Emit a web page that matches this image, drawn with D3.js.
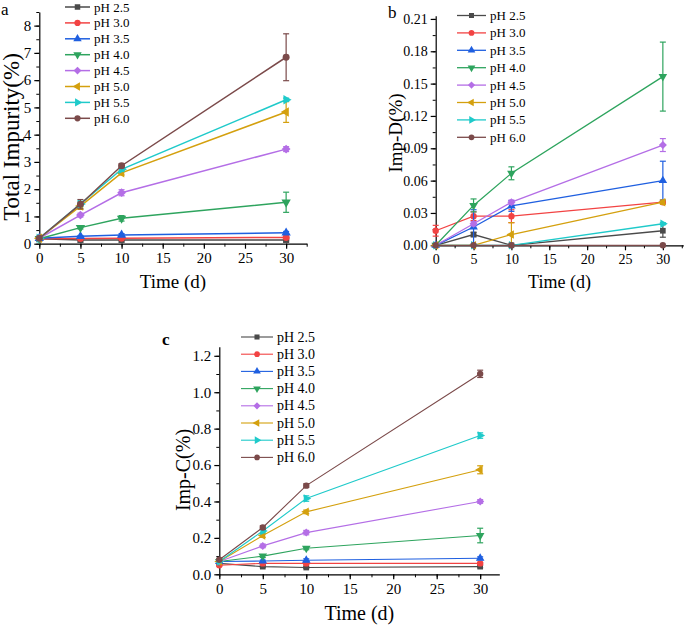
<!DOCTYPE html>
<html lang="en">
<head>
<meta charset="UTF-8">
<title>Impurity vs time at different pH</title>
<script src="https://d3js.org/d3.v7.min.js"></script>
<style>
    body { margin: 0; background: #fff; }
    svg { display: block; font-family: "Liberation Serif", "Times New Roman", serif; }
    .line { fill: none; }
</style>
</head>
<body>
<script>
// sampling days
const days = [0, 5, 10, 30];
const seriesNames = ["pH 2.5", "pH 3.0", "pH 3.5", "pH 4.0", "pH 4.5", "pH 5.0", "pH 5.5", "pH 6.0"];

// panel a: total impurity (%)
const totalMean = [
    [0.18, 0.14, 0.14, 0.14],
    [0.18, 0.19, 0.2, 0.23],
    [0.2, 0.27, 0.32, 0.4],
    [0.18, 0.59, 0.93, 1.52],
    [0.2, 1.05, 1.87, 3.47],
    [0.2, 1.38, 2.6, 4.83],
    [0.2, 1.46, 2.73, 5.28],
    [0.2, 1.45, 2.86, 6.84]
];
const totalErr = [
    [0.02, 0.02, 0.02, 0.02],
    [0.02, 0.02, 0.02, 0.03],
    [0.02, 0.03, 0.05, 0.05],
    [0.03, 0.05, 0.1, 0.37],
    [0.03, 0.07, 0.11, 0.09],
    [0.03, 0.12, 0.08, 0.38],
    [0.03, 0.1, 0.08, 0.06],
    [0.03, 0.17, 0.07, 0.86]
];

// panel b: Imp-D (%)
const impDMean = [
    [0, 0.010, 0, 0.0135],
    [0.0135, 0.027, 0.027, 0.040],
    [0, 0.017, 0.0365, 0.060],
    [0, 0.037, 0.0668, 0.1565],
    [0, 0.020, 0.040, 0.093],
    [0, 0, 0.010, 0.040],
    [0, 0, 0, 0.020],
    [0, 0, 0, 0]
];
const impDErr = [
    [0, 0.002, 0, 0.006],
    [0.005, 0.004, 0.006, 0.001],
    [0, 0.016, 0.005, 0.018],
    [0, 0.006, 0.006, 0.032],
    [0, 0.002, 0.002, 0.006],
    [0, 0, 0.011, 0.002],
    [0, 0, 0, 0.001],
    [0, 0, 0, 0]
];

// panel c: Imp-C (%)
const impCMean = [
    [0.06, 0.042, 0.037, 0.042],
    [0.05, 0.06, 0.06, 0.06],
    [0.07, 0.073, 0.077, 0.088],
    [0.07, 0.10, 0.143, 0.213],
    [0.07, 0.156, 0.229, 0.40],
    [0.07, 0.213, 0.343, 0.574],
    [0.07, 0.238, 0.416, 0.762],
    [0.08, 0.257, 0.487, 1.101]
];
const impCErr = [
    [0.005, 0.005, 0.005, 0.006],
    [0.005, 0.005, 0.005, 0.005],
    [0.005, 0.005, 0.008, 0.008],
    [0.005, 0.008, 0.008, 0.04],
    [0.005, 0.01, 0.012, 0.01],
    [0.005, 0.01, 0.01, 0.022],
    [0.005, 0.01, 0.015, 0.015],
    [0.005, 0.01, 0.01, 0.02]
];

const colors = ["#4a4a4a", "#f24343", "#1f5fe0", "#2ea45e", "#b46ee6", "#d4a00e", "#1fcaca", "#7b4a4a"];
// symbol type + rotation
const markers = [
    [d3.symbolSquare, 0], [d3.symbolCircle, 0], [d3.symbolTriangle, 0], [d3.symbolTriangle, 180],
    [d3.symbolSquare, 45], [d3.symbolTriangle, -90], [d3.symbolTriangle, 90], [d3.symbolCircle, 0]
];

const svg = d3.select("body").append("svg")
    .attr("width", 685)
    .attr("height", 627);

function drawPanel(p) {
    const x = d3.scaleLinear().domain([0, p.xMax]).range([p.left, p.right]);
    const y = d3.scaleLinear().domain([0, p.yMax]).range([p.bottom, p.top]);
    const g = svg.append("g");

    // minor ticks
    g.append("g")
        .attr("transform", `translate(0,${p.bottom})`)
        .call(d3.axisBottom(x).tickValues(d3.range(0, p.xMax + 0.01, 2.5)).tickSize(3).tickFormat(""))
        .call(a => a.select(".domain").remove());
    g.append("g")
        .attr("transform", `translate(${p.left},0)`)
        .call(d3.axisLeft(y).tickValues(d3.range(0, p.yMax + 1e-9, p.yMinor)).tickSize(3).tickFormat(""))
        .call(a => a.select(".domain").remove());

    // major axes
    const xAxis = g.append("g")
        .attr("transform", `translate(0,${p.bottom})`)
        .call(d3.axisBottom(x).tickValues(d3.range(0, 31, 5)).tickSize(5).tickSizeOuter(0).tickPadding(4));
    const yAxis = g.append("g")
        .attr("transform", `translate(${p.left},0)`)
        .call(d3.axisLeft(y).tickValues(p.yTicks).tickFormat(d3.format(p.yFmt)).tickSize(5).tickSizeOuter(0).tickPadding(3));
    [xAxis, yAxis].forEach(a => {
        a.selectAll("path, line").attr("stroke", "#000").attr("stroke-width", 1.2);
        a.selectAll("text").attr("font-family", "Liberation Serif").attr("font-size", p.tickFont).attr("fill", "#000");
    });
    g.selectAll("line").attr("stroke", "#000");

    // titles
    g.append("text")
        .attr("x", (p.left + p.right) / 2).attr("y", p.xTitleY)
        .attr("text-anchor", "middle").attr("font-size", p.xTitleFont)
        .text("Time (d)");
    g.append("text")
        .attr("transform", `translate(${p.yTitleX},${p.yTitleY}) rotate(-90)`)
        .attr("text-anchor", "middle").attr("font-size", p.yTitleFont)
        .text(p.yTitle);
    g.append("text")
        .attr("x", p.letterX).attr("y", p.letterY)
        .attr("font-size", 17).attr("font-weight", p.letterBold ? "bold" : "normal")
        .text(p.letter);

    const line = d3.line().x((d, i) => x(days[i])).y(d => y(d));

    p.mean.forEach((vals, s) => {
        const c = colors[s];
        const err = p.err[s];
        // error bars
        vals.forEach((v, i) => {
            if (err[i] <= 0) return;
            const cx = x(days[i]);
            const y1 = y(v + err[i]), y0 = y(Math.max(0, v - err[i]));
            g.append("line").attr("x1", cx).attr("x2", cx).attr("y1", y1).attr("y2", y0)
                .attr("stroke", c).attr("stroke-width", 1.2);
            [y1, y(v - err[i])].forEach(yy => {
                if (v - err[i] < 0 && yy === y(v - err[i])) return;
                g.append("line").attr("x1", cx - 3).attr("x2", cx + 3).attr("y1", yy).attr("y2", yy)
                    .attr("stroke", c).attr("stroke-width", 1.2);
            });
        });
        g.append("path")
            .datum(vals)
            .attr("class", "line")
            .attr("d", line)
            .attr("stroke", c)
            .attr("stroke-width", p.lineWidth);
        g.selectAll(null)
            .data(vals)
            .enter()
            .append("path")
            .attr("d", d3.symbol().type(markers[s][0]).size(p.markerSize))
            .attr("transform", (d, i) => `translate(${x(days[i])},${y(d)}) rotate(${markers[s][1]})`)
            .attr("fill", c);
    });

    // legend
    seriesNames.forEach((name, s) => {
        const ly = p.legY + s * p.legStep;
        g.append("line")
            .attr("x1", p.legX).attr("x2", p.legX + p.legLen)
            .attr("y1", ly).attr("y2", ly)
            .attr("stroke", colors[s]).attr("stroke-width", p.lineWidth);
        g.append("path")
            .attr("d", d3.symbol().type(markers[s][0]).size(p.markerSize * 0.8))
            .attr("transform", `translate(${p.legX + p.legLen / 2},${ly}) rotate(${markers[s][1]})`)
            .attr("fill", colors[s]);
        g.append("text")
            .attr("x", p.legX + p.legLen + 4).attr("y", ly + 4.5)
            .attr("font-size", p.legFont)
            .text(name);
    });
}

drawPanel({
    letter: "a", letterX: 1, letterY: 15, letterBold: false,
    left: 39.3, right: 306.7, xMax: 32.5,
    bottom: 243.7, top: 12, yMax: 8.5, yTicks: d3.range(0, 9, 1), yMinor: 0.5, yFmt: "d",
    tickFont: 15, xTitleY: 288, xTitleFont: 19,
    yTitle: "Total Impurity(%)", yTitleX: 19, yTitleY: 137, yTitleFont: 23,
    mean: totalMean, err: totalErr,
    lineWidth: 1.5, markerSize: 38,
    legX: 65, legLen: 25, legY: 7, legStep: 15.9, legFont: 13
});

drawPanel({
    letter: "b", letterX: 388, letterY: 18, letterBold: false,
    left: 435.7, right: 683.3, xMax: 32.7,
    bottom: 245.3, top: 15.7, yMax: 0.213, yTicks: d3.range(0, 0.2101, 0.03), yMinor: 0.015, yFmt: ".2f",
    tickFont: 14, xTitleY: 288, xTitleFont: 18,
    yTitle: "Imp-D(%)", yTitleX: 402, yTitleY: 133, yTitleFont: 19,
    mean: impDMean, err: impDErr,
    lineWidth: 1.3, markerSize: 32,
    legX: 457, legLen: 29, legY: 15.5, legStep: 17.4, legFont: 13
});

drawPanel({
    letter: "c", letterX: 162, letterY: 345, letterBold: true,
    left: 219.3, right: 499.3, xMax: 32.2,
    bottom: 574.3, top: 346.7, yMax: 1.25, yTicks: d3.range(0, 1.201, 0.2), yMinor: 0.1, yFmt: ".1f",
    tickFont: 15, xTitleY: 620, xTitleFont: 20,
    yTitle: "Imp-C(%)", yTitleX: 190, yTitleY: 470, yTitleFont: 20,
    mean: impCMean, err: impCErr,
    lineWidth: 1.1, markerSize: 32,
    legX: 241, legLen: 32, legY: 337, legStep: 17.2, legFont: 14
});
</script>
</body>
</html>
